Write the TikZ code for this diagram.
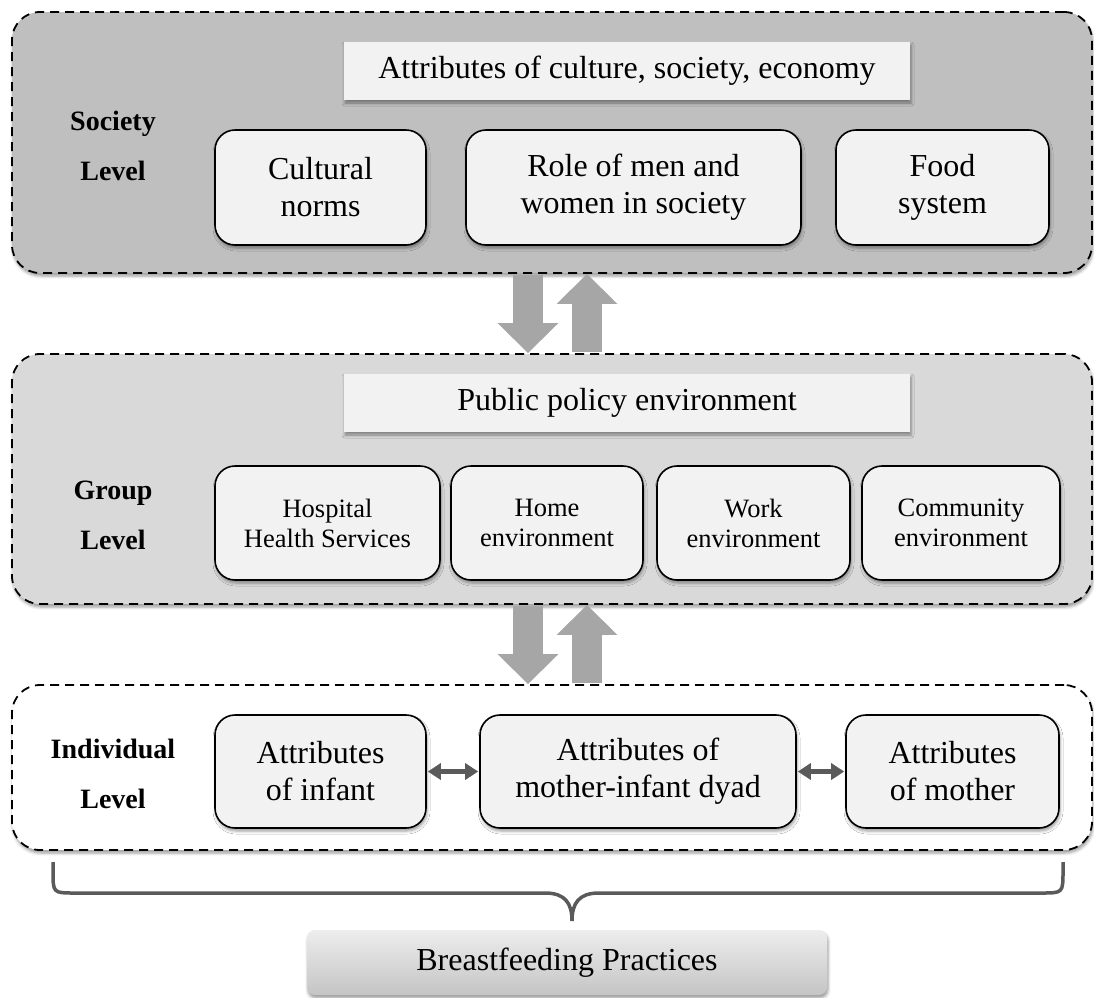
\documentclass[tikz,border=0pt]{standalone}
\usepackage{fontspec}
\setmainfont{Liberation Serif}
\usetikzlibrary{arrows.meta,shadows.blur}
\definecolor{socfill}{HTML}{BFBFBF}
\definecolor{grpfill}{HTML}{D9D9D9}
\definecolor{boxfill}{HTML}{F2F2F2}
\definecolor{arrowgray}{HTML}{A6A6A6}
\definecolor{darkline}{HTML}{5A5A5A}
\begin{document}
\begin{tikzpicture}[x=1pt,y=-1pt,
  softshadow/.style={blur shadow={shadow xshift=1pt,shadow yshift=-3pt,shadow blur radius=3pt}},
  outerbox/.style={draw=black,line width=1.8pt,dash pattern=on 9pt off 6pt,
    rounded corners=28pt,inner sep=0pt,minimum width=1080pt,softshadow},
  titlebox/.style={fill=boxfill,inner sep=0pt,minimum width=566pt,minimum height=58pt,
    font=\fontsize{32}{37}\selectfont,softshadow},
  bigbox/.style={draw=black,line width=1.6pt,fill=boxfill,rounded corners=20pt,inner sep=0pt,
    align=center,font=\fontsize{32}{37}\selectfont,softshadow},
  midbox/.style={draw=black,line width=1.6pt,fill=boxfill,rounded corners=20pt,inner sep=0pt,
    align=center,font=\fontsize{26.5}{30}\selectfont,minimum height=114pt,softshadow},
  levellabel/.style={align=center,font=\bfseries\fontsize{28}{50}\selectfont},
  blockarrow/.style={draw=arrowgray,line width=30pt,-{Triangle[length=30pt,width=59pt]}},
  dblarrow/.style={draw=darkline,line width=5pt,
    {Triangle[length=13pt,width=16pt]}-{Triangle[length=13pt,width=16pt]},
    shorten <=1pt,shorten >=1pt},
  bracketline/.style={draw=darkline,line width=3.5pt},
  resultbox/.style={rounded corners=8pt,top color=black!7,bottom color=black!23,
    minimum width=520pt,minimum height=65pt,inner sep=0pt,
    font=\fontsize{32}{37}\selectfont,softshadow}
]
\useasboundingbox (0,0) rectangle (1094,997);

% outer level boxes
\node[outerbox,fill=socfill,minimum height=261pt] (soc) at (552,142.5) {};
\node[outerbox,fill=grpfill,minimum height=250pt] (grp) at (552,479) {};
\node[outerbox,fill=white,minimum height=165pt] (ind) at (552,767.5) {};

% block arrows between levels
\draw[blockarrow] ([xshift=-24pt,yshift=-1.5pt]soc.south) -- ([xshift=-24pt]grp.north);
\draw[blockarrow] ([xshift=35pt,yshift=1.5pt]grp.north) -- ([xshift=35pt]soc.south);
\draw[blockarrow] ([xshift=-24pt,yshift=-1.5pt]grp.south) -- ([xshift=-24pt]ind.north);
\draw[blockarrow] ([xshift=35pt,yshift=1.5pt]ind.north) -- ([xshift=35pt]grp.south);

% society level
\node[levellabel] (socl) at (113,146) {Society\\Level};
\node[titlebox] (soct) at (627,71) {Attributes of culture, society, economy};
\node[bigbox,minimum width=211pt,minimum height=115pt] (cult) at (320.5,187.5) {Cultural\\norms};
\node[bigbox,minimum width=335pt,minimum height=115pt] (role) at (633.5,187.5) {Role of men and\\women in society};
\node[bigbox,minimum width=213pt,minimum height=115pt] (food) at (942.5,187.5) {Food\\system};

% group level
\node[levellabel] (grpl) at (113,515) {Group\\Level};
\node[titlebox] (grpt) at (627,403) {Public policy environment};
\node[midbox,minimum width=225pt] (hosp) at (327.5,523) {Hospital\\Health Services};
\node[midbox,minimum width=192pt] (home) at (547,523) {Home\\environment};
\node[midbox,minimum width=193pt] (work) at (753.5,523) {Work\\environment};
\node[midbox,minimum width=198pt] (comm) at (961,523) {Community\\environment};

% individual level
\node[levellabel] (indl) at (113,774) {Individual\\Level};
\node[bigbox,minimum width=211pt,minimum height=113pt] (inf) at (320.5,771.5) {Attributes\\of infant};
\node[bigbox,minimum width=316pt,minimum height=113pt] (dyad) at (638,771.5) {Attributes of\\mother-infant dyad};
\node[bigbox,minimum width=213pt,minimum height=113pt] (moth) at (952.5,771.5) {Attributes\\of mother};

\draw[dblarrow] (inf.east) -- (dyad.west);
\draw[dblarrow] (dyad.east) -- (moth.west);

% brace and result
\coordinate (bl) at (53,862);
\coordinate (br) at (1063,862);
\coordinate (tip) at (572,921);
\draw[bracketline] (bl) -- (53,871) .. controls (53,893) .. (75,893) -- (545,893)
  .. controls (565,893) and (572,903) .. (tip)
  .. controls (572,903) and (579,893) .. (599,893) -- (1041,893)
  .. controls (1063,893) .. (1063,871) -- (br);
\node[resultbox] (bf) at (567,962.5) {Breastfeeding Practices};
\end{tikzpicture}
\end{document}
